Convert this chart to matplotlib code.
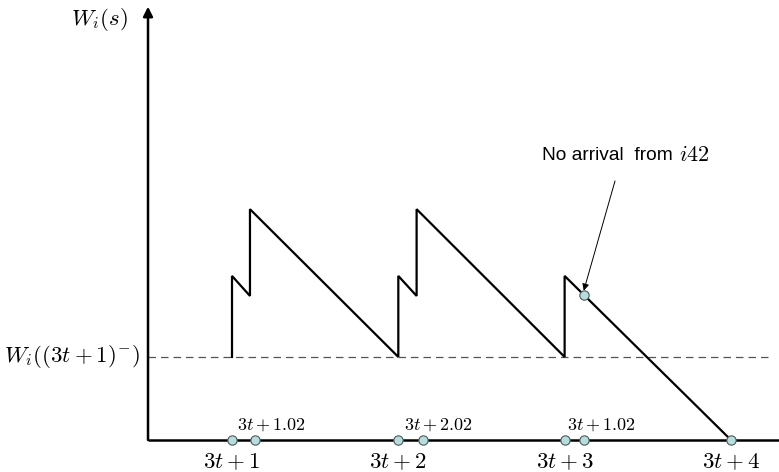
import matplotlib
matplotlib.use("Agg")
import matplotlib.pyplot as plt

plt.rcParams['mathtext.fontset'] = 'cm'

# Data (x in units of time slots, y in units of the reference level W_i((3t+1)^-))
path_x = [1.0, 1.0, 1.108, 1.108, 2.0, 2.0, 2.11, 2.11, 3.0, 3.0, 4.0]
path_y = [1.0, 1.976, 1.735, 2.78, 1.0, 1.976, 1.735, 2.78, 1.0, 1.976, 0.0]
axis_marks_x = [1.0, 1.138, 2.0, 2.15, 3.0, 3.114, 4.0]
missed_x = 3.115
missed_y = 1.748
tick_pos = [1, 2, 3, 4]
tick_labels = [r'$3t+1$', r'$3t+2$', r'$3t+3$', r'$3t+4$']
small_pos = [1.235, 2.24, 3.222]
small_labels = [r'$3t+1.02$', r'$3t+2.02$', r'$3t+1.02$']
ref_level = 1.0

fig = plt.figure(figsize=(7.79, 4.72), dpi=100)
ax = fig.add_axes([0, 0, 1, 1])
ax.set_xlim(-0.395, 4.289)
ax.set_ylim(-0.386, 5.30)
ax.axis('off')

x0 = 0.495  # where the y axis sits

# axes with arrows
ax.annotate('', xy=(x0, 5.22), xytext=(x0, 0),
            arrowprops=dict(arrowstyle='-|>', lw=1.8, color='black', mutation_scale=14,
                            shrinkA=0, shrinkB=0))
ax.plot([x0, 4.4], [0, 0], color='black', lw=1.8, solid_capstyle='butt', zorder=2)

# dashed reference level
ax.plot([x0, 4.223], [ref_level, ref_level], color='#555555', lw=0.9, ls=(0, (6, 4)))

# sawtooth
ax.plot(path_x, path_y, color='black', lw=1.6, solid_joinstyle='miter', zorder=3)

# arrival markers on the time axis
ax.scatter(axis_marks_x, [0] * len(axis_marks_x), s=45, facecolor='#b7dcdc',
           edgecolor='#4a5a5a', linewidth=0.8, zorder=5, clip_on=False)
ax.scatter([missed_x], [missed_y], s=45, facecolor='#b7dcdc',
           edgecolor='#4a5a5a', linewidth=0.8, zorder=5)

# labels
ax.text(0.375, 5.06, r'$W_i(s)$', ha='right', va='center', fontsize=16.5)
ax.text(0.447, ref_level, r'$W_i((3t+1)^{-})$', ha='right', va='center', fontsize=16.5)
for p, lab in zip(tick_pos, tick_labels):
    ax.text(p, -0.265, lab, ha='center', va='center', fontsize=16.5)
for p, lab in zip(small_pos, small_labels):
    ax.text(p, 0.18, lab, ha='center', va='center', fontsize=13)

ax.text(2.864, 3.43, 'No arrival  from', ha='left', va='center', fontsize=13.8,
        family='Liberation Sans')
ax.text(3.685, 3.43, r'$i42$', ha='left', va='center', fontsize=16)
ax.annotate('', xy=(missed_x, missed_y + 0.05), xytext=(3.303, 3.12),
            arrowprops=dict(arrowstyle='-|>', lw=0.7, color='black', mutation_scale=10,
                            shrinkA=0, shrinkB=0))

fig.savefig('out.png', dpi=100)
